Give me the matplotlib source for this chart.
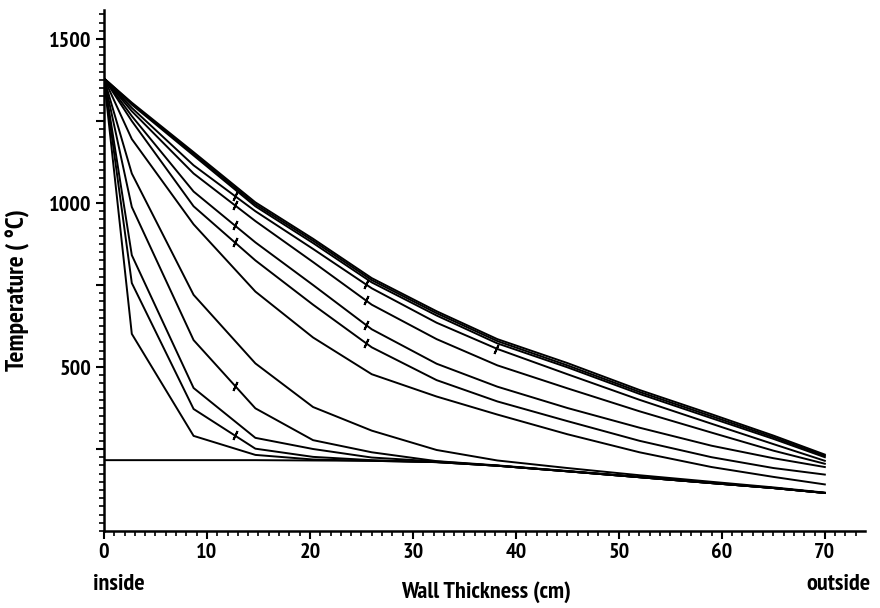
import numpy as np
import matplotlib
matplotlib.use("Agg")
import matplotlib.pyplot as plt
from matplotlib.ticker import FixedLocator, MultipleLocator
from matplotlib import font_manager

# ---------------- data ----------------
x_nodes = [0, 2.7, 8.7, 14.7, 20.3, 26.0, 32.3, 38.2, 45.0, 52.0, 59.0, 65.0, 70.0]

baseline = [216, 216, 216, 216, 215, 214, 210, 199, 182, 164, 146, 131, 116]
curve_a = [1380, 601, 290, 232, 218, 214, 210, 199, 182, 164, 146, 131, 116]
curve_b = [1380, 756, 372, 251, 226, 216, 210, 199, 182, 164, 146, 131, 116]
curve_c = [1380, 841, 436, 284, 250, 224, 212, 199, 182, 164, 146, 131, 116]
curve_d = [1380, 988, 582, 374, 277, 240, 213, 200, 183, 165, 147, 131, 116]
curve_e = [1380, 1090, 720, 511, 378, 306, 247, 215, 192, 170, 150, 133, 117]
curve_f = [1380, 1195, 935, 730, 590, 478, 410, 355, 295, 240, 195, 165, 142]
curve_m4 = [1380, 1250, 990, 825, 690, 560, 460, 395, 335, 275, 225, 192, 172]
curve_m3 = [1380, 1265, 1035, 880, 750, 615, 510, 440, 375, 315, 260, 222, 195]
curve_m2 = [1380, 1280, 1090, 945, 820, 690, 585, 505, 435, 365, 300, 245, 205]
curve_m1 = [1380, 1290, 1115, 975, 860, 740, 635, 555, 478, 400, 327, 265, 214]
curve_t3 = [1380, 1300, 1145, 990, 878, 758, 657, 572, 499, 418, 344, 281, 225]
curve_t2 = [1380, 1303, 1150, 996, 885, 765, 664, 579, 505, 424, 350, 286, 229]
curve_t1 = [1380, 1306, 1155, 1002, 891, 771, 670, 585, 512, 430, 356, 291, 233]

curves = [baseline, curve_a, curve_b, curve_c, curve_d, curve_e, curve_f,
          curve_m4, curve_m3, curve_m2, curve_m1, curve_t3, curve_t2, curve_t1]

# marker positions (x in cm) and the curves they sit on
marker_sets = [
    (12.7, [curve_b, curve_d, curve_m4, curve_m3, curve_m2, curve_m1]),
    (25.4, [curve_m4, curve_m3, curve_m2, curve_m1]),
    (38.1, [curve_m1]),
]

x_major = [0, 10, 20, 30, 40, 50, 60, 70]
x_labels = ["0", "10", "20", "30", "40", "50", "60", "70"]
y_major = [250, 500, 750, 1000, 1250, 1500]
y_labels = ["", "500", "", "1000", "", "1500"]

# ---------------- font ----------------
candidates = ["Liberation Sans Narrow", "PT Sans Narrow", "Roboto Condensed",
              "Fira Sans Condensed", "IBM Plex Sans Condensed", "Archivo Narrow",
              "Encode Sans Condensed", "Asap Condensed", "Barlow Semi Condensed"]
bold_families = set()
for f in font_manager.fontManager.ttflist:
    w = f.weight
    try:
        w = int(w)
    except (TypeError, ValueError):
        w = 700 if str(w).lower() in ("bold", "heavy", "black", "extra bold") else 400
    if w >= 700:
        bold_families.add(f.name)
chosen = [n for n in candidates if n in bold_families]
plt.rcParams['font.family'] = (chosen[:1] or []) + ["DejaVu Sans"]
plt.rcParams['font.weight'] = 'bold'
FS_TICK = 16 if chosen else 12.5
FS_LAB = 17.5 if chosen else 12.5

fig = plt.figure(figsize=(8.8, 6.08), dpi=100)
W, H = 880, 608
px_left, px_right = 104, 865
py_bottom, py_top = 531, 9.5
ax = fig.add_axes([px_left / W, (H - py_bottom) / H,
                   (px_right - px_left) / W, (py_bottom - py_top) / H])

for c in curves:
    ax.plot(x_nodes, c, color='black', lw=1.4, solid_joinstyle='miter')

for mx, cs in marker_sets:
    for c in cs:
        my = np.interp(mx, x_nodes, c)
        ax.plot([mx], [my], marker=(2, 2, -25), ms=7, mew=1.4, color='black')

ax.set_xlim(0, 73.9)
ax.set_ylim(0, 1590)

for s in ['top', 'right']:
    ax.spines[s].set_visible(False)
for s in ['left', 'bottom']:
    ax.spines[s].set_linewidth(1.8)

ax.xaxis.set_major_locator(FixedLocator(x_major))
ax.set_xticklabels(x_labels)
ax.xaxis.set_minor_locator(MultipleLocator(1))
ax.yaxis.set_major_locator(FixedLocator(y_major))
ax.set_yticklabels(y_labels)
ax.yaxis.set_minor_locator(MultipleLocator(25))

ax.tick_params(axis='both', which='major', length=6, width=1.5, labelsize=FS_TICK, pad=3)
ax.tick_params(axis='both', which='minor', length=3.5, width=1.2)

ax.text(-0.014, -0.103, "inside", transform=ax.transAxes, ha='left', va='center',
        fontsize=FS_LAB, fontweight='bold')
ax.text(1.007, -0.103, "outside", transform=ax.transAxes, ha='right', va='center',
        fontsize=FS_LAB, fontweight='bold')
ax.text(0.502, -0.117, "Wall Thickness (cm)", transform=ax.transAxes, ha='center',
        va='center', fontsize=FS_LAB, fontweight='bold')
ax.text(-0.113, 0.462, "Temperature ( °C)", transform=ax.transAxes, ha='center',
        va='center', rotation=90, fontsize=FS_LAB + 1, fontweight='bold')

fig.savefig("out.png", dpi=100)
